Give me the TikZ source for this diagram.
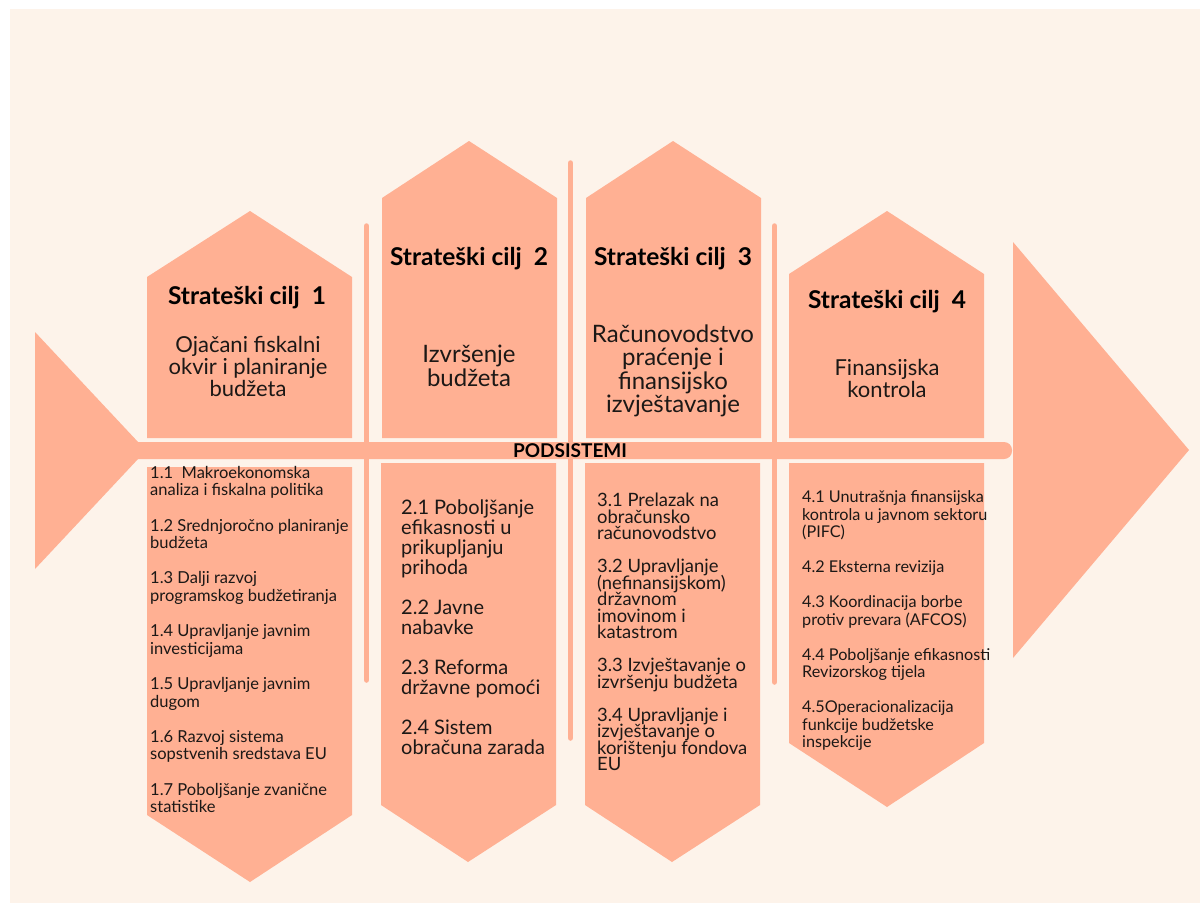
\documentclass[tikz,border=0pt]{standalone}
\usepackage{fontspec}
\setmainfont{Lato}
\definecolor{cream}{RGB}{253,243,234}
\definecolor{salmon}{RGB}{255,176,147}
\definecolor{ink}{RGB}{28,24,22}
% keep a fixed line pitch even where glyphs would touch
\newcommand\tightlines{\lineskiplimit -20pt\relax}

\begin{document}
\begin{tikzpicture}[x=1pt,y=-1pt,
  piece/.style={fill=salmon},
  bar/.style={draw=salmon,line width=5.5pt,line cap=round},
  goaltitle/.style={inner sep=0pt,text=black,font=\bfseries\fontsize{24.5}{26}\selectfont},
  goalsmall/.style={inner sep=0pt,text=ink,align=center,font=\fontsize{22}{22}\selectfont\tightlines},
  goalbig/.style={inner sep=0pt,text=ink,align=center,font=\fontsize{24}{23.5}\selectfont\tightlines},
  items/.style={inner sep=0pt,text=ink,align=left,anchor=north west}]

% page and backdrop
\fill[white] (0,0) rectangle (1200,903);
\fill[cream] (10,9) rectangle (1200,903);
\useasboundingbox (0,0) rectangle (1200,903);

% tail, spine and head
\fill[piece] (35,332) -- (146,450.5) -- (35,569) -- cycle;
\fill[piece,rounded corners=8pt] (130,442) rectangle (1012,459);
\fill[piece] (1013,242) -- (1189,450) -- (1013,658) -- cycle;

% ribs between the goals
\draw[bar] (366.5,226) -- (366.5,680);
\draw[bar] (570.5,163) -- (570.5,738);
\draw[bar] (774.5,226) -- (774.5,682);

% goal 1
\fill[piece] (147,438) -- (147,277) -- (250,211) -- (352,277) -- (352,438) -- cycle;
\fill[piece] (147,467) -- (352,467) -- (352,815) -- (250,882) -- (147,815) -- cycle;
% goal 2
\fill[piece] (382,438) -- (382,198) -- (469,141) -- (557,198) -- (557,438) -- cycle;
\fill[piece] (381,463) -- (556,463) -- (556,805) -- (468,862) -- (381,805) -- cycle;
% goal 3
\fill[piece] (586,438) -- (586,198) -- (673,141) -- (761,198) -- (761,438) -- cycle;
\fill[piece] (585,463) -- (760,463) -- (760,805) -- (672,862) -- (585,805) -- cycle;
% goal 4
\fill[piece] (789,438) -- (789,274) -- (887,211) -- (984,274) -- (984,438) -- cycle;
\fill[piece] (789,463) -- (984,463) -- (984,743) -- (887,807) -- (789,743) -- cycle;

% titles
\node[goaltitle] (t1) at (247,298) {Strateški cilj\ \ 1};
\node[goaltitle] (t2) at (469,259) {Strateški cilj\ \ 2};
\node[goaltitle] (t3) at (673,259) {Strateški cilj\ \ 3};
\node[goaltitle] (t4) at (887,302) {Strateški cilj\ \ 4};

% goal names
\node[goalsmall] (s1) at (248,366) {Ojačani fiskalni\\okvir i planiranje\\budžeta};
\node[goalbig] (s2) at (469,366) {Izvršenje\\budžeta};
\node[goalbig] (s3) at (673,371) {Računovodstvo\\praćenje i\\finansijsko\\izvještavanje};
\node[goalsmall] (s4) at (887,378) {Finansijska\\kontrola};

% spine label
\node[inner sep=0pt,text=black,font=\bfseries\fontsize{19}{20}\selectfont] (pod) at (570,451) {PODSISTEMI};

% subsystems
\node[items,font=\fontsize{16.5}{17.6}\selectfont\tightlines] (b1) at (150,466) {%
1.1\ \ Makroekonomska\\analiza i fiskalna politika\\[17.6pt]
1.2 Srednjoročno planiranje\\budžeta\\[17.6pt]
1.3 Dalji razvoj\\programskog budžetiranja\\[17.6pt]
1.4 Upravljanje javnim\\investicijama\\[17.6pt]
1.5 Upravljanje javnim\\dugom\\[17.6pt]
1.6 Razvoj sistema\\sopstvenih sredstava EU\\[17.6pt]
1.7 Poboljšanje zvanične\\statistike};

\node[items,font=\fontsize{20}{20}\selectfont\tightlines] (b2) at (401,500) {%
2.1 Poboljšanje\\efikasnosti u\\prikupljanju\\prihoda\\[20pt]
2.2 Javne\\nabavke\\[20pt]
2.3 Reforma\\državne pomoći\\[20pt]
2.4 Sistem\\obračuna zarada};

\node[items,font=\fontsize{18.4}{16.5}\selectfont\tightlines] (b3) at (597,493) {%
3.1 Prelazak na\\obračunsko\\računovodstvo\\[16.5pt]
3.2 Upravljanje\\(nefinansijskom)\\državnom\\imovinom i\\katastrom\\[16.5pt]
3.3 Izvještavanje o\\izvršenju budžeta\\[16.5pt]
3.4 Upravljanje i\\izvještavanje o\\korištenju fondova\\EU};

\node[items,font=\fontsize{16.2}{17.5}\selectfont\tightlines] (b4) at (802,490.5) {%
4.1 Unutrašnja finansijska\\kontrola u javnom sektoru\\(PIFC)\\[17.5pt]
4.2 Eksterna revizija\\[17.5pt]
4.3 Koordinacija borbe\\protiv prevara (AFCOS)\\[17.5pt]
4.4 Poboljšanje efikasnosti\\Revizorskog tijela\\[17.5pt]
4.5Operacionalizacija\\funkcije budžetske\\inspekcije};
\end{tikzpicture}
\end{document}
